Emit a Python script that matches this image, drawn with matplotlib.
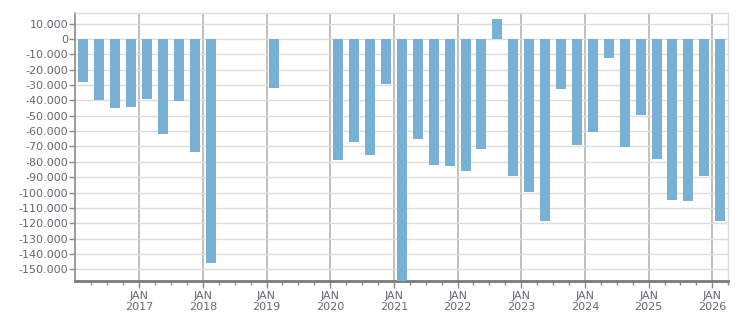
import matplotlib
matplotlib.use("Agg")
import matplotlib.pyplot as plt
from matplotlib.ticker import FuncFormatter, MultipleLocator, FixedLocator

# quarterly data (year, quarter, value)
years =    [2016, 2016, 2016, 2016, 2017, 2017, 2017, 2017, 2018, 2019,
            2020, 2020, 2020, 2020, 2021, 2021, 2021, 2021, 2022, 2022, 2022, 2022,
            2023, 2023, 2023, 2023, 2024, 2024, 2024, 2024, 2025, 2025, 2025, 2025, 2026]
quarters = [1, 2, 3, 4, 1, 2, 3, 4, 1, 1,
            1, 2, 3, 4, 1, 2, 3, 4, 1, 2, 3, 4,
            1, 2, 3, 4, 1, 2, 3, 4, 1, 2, 3, 4, 1]
values = [-27800, -39500, -44700, -44100, -38900, -61700, -40400, -73400, -145900, -31700,
          -78800, -66900, -75600, -29100, -165000, -64900, -82100, -82700, -86000, -71400, 13000, -89000,
          -99500, -118300, -32400, -68800, -60400, -12200, -70100, -49500, -78200, -104900, -105500, -89000, -118300]
tick_years = list(range(2017, 2027))

bar_color = "#78b1d4"
text_color = "#666672"

fig = plt.figure(figsize=(7.51, 3.13), dpi=100)
ax = fig.add_axes([0.1005, 0.1025, 0.8695, 0.855])

x = [y + (q - 1) * 0.25 + 0.125 for y, q in zip(years, quarters)]
ax.bar(x, values, width=0.157, color=bar_color, zorder=3)

ax.set_xlim(2016.0, 2026.254)
ax.set_ylim(-157500, 16700)

ax.yaxis.set_major_locator(MultipleLocator(10000))
ax.yaxis.set_major_formatter(FuncFormatter(lambda v, p: f"{int(round(v)):,}".replace(",", ".")))
ax.grid(axis="y", color="#dcdcdc", linewidth=1, zorder=0)

ax.xaxis.set_major_locator(FixedLocator(tick_years))
ax.xaxis.set_minor_locator(FixedLocator([2016 + i * 0.25 for i in range(1, 42)]))
ax.set_xticklabels([f"JAN\n{y}" for y in tick_years])
ax.grid(axis="x", which="major", color="#b4b4b4", linewidth=1.2, zorder=1)

for s in ["top", "right"]:
    ax.spines[s].set_color("#dcdcdc")
    ax.spines[s].set_linewidth(1)
ax.spines["left"].set_color("#8a8a8a")
ax.spines["left"].set_linewidth(1.2)
ax.spines["bottom"].set_color("#7a7a7a")
ax.spines["bottom"].set_linewidth(2)

ax.tick_params(axis="y", colors="#8a8a8a", labelcolor=text_color, labelsize=8, length=4, width=1, pad=1)
ax.tick_params(axis="x", which="major", colors="#8a8a8a", labelcolor=text_color, labelsize=8, length=5, width=1, pad=2)
ax.tick_params(axis="x", which="minor", colors="#8a8a8a", length=3, width=1)

fig.savefig("out.png", dpi=100)
